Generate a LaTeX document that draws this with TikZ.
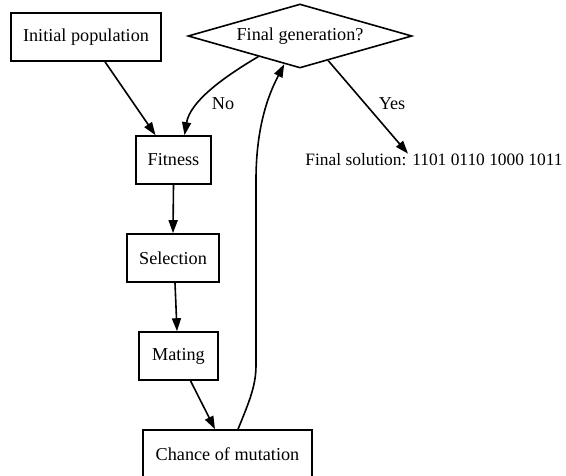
\documentclass[tikz,border=0pt]{standalone}
\usepackage{fontspec}
\setmainfont{Liberation Serif}
\usetikzlibrary{arrows.meta,shapes.geometric,calc}

\tikzset{
  lbl/.style={font=\fontsize{18.2}{21}\selectfont},
  stage/.style={draw, line width=1.6pt, rectangle, inner sep=0pt,
    minimum height=48pt, lbl},
  decision/.style={draw, line width=1.6pt, diamond, aspect=3.5, inner sep=0pt,
    minimum width=224pt, minimum height=64pt, lbl},
  plain/.style={inner sep=0pt, lbl},
  flow/.style={line width=1.6pt, -{Triangle[length=13pt,width=9pt]}},
}

\begin{document}
\begin{tikzpicture}[x=1pt,y=-1pt]
\useasboundingbox (0,0) rectangle (566,476);

% stages of the loop
\node[stage, minimum width=150pt] (init) at (86,37) {Initial population};
\node[decision] (dec) at (300,36) {Final generation?};
\node[stage, minimum width=75pt] (fit) at (173.5,160) {Fitness};
\node[stage, minimum width=92pt] (sel) at (173,258) {Selection};
\node[stage, minimum width=79pt] (mate) at (178.5,356) {Mating};
\node[stage, minimum width=169pt] (mut) at (227.5,454) {Chance of mutation};
\node[plain, font=\fontsize{17.4}{20}\selectfont] (sol) at (434,160)
  {Final solution: 1101 0110 1000 1011};

% edge labels
\node[plain] (no) at (223,104) {No};
\node[plain] (yes) at (392,104) {Yes};

% connectors
\draw[flow] ([xshift=19pt]init.south) -- ([xshift=-18pt]fit.north);
\draw[flow] ($(dec.west)!0.63!(dec.south)$)
  .. controls (222,78) and (190,102) .. ([xshift=11pt]fit.north);
\draw[flow] ($(dec.south)!0.25!(dec.east)$) -- ([xshift=-26pt]sol.north);
\draw[flow] (fit.south) -- (sel.north);
\draw[flow] ([xshift=2pt]sel.south) -- ([xshift=-1.5pt]mate.north);
\draw[flow] ([xshift=12pt]mate.south) -- ([xshift=-12.5pt]mut.north);
\draw[flow] ([xshift=10.5pt]mut.north)
  .. controls (250,400) and (256,385) .. (256,365)
  -- (256,180)
  .. controls (256,120) and (272,88) .. ($(dec.south)!0.14!(dec.west)$);
\end{tikzpicture}
\end{document}
